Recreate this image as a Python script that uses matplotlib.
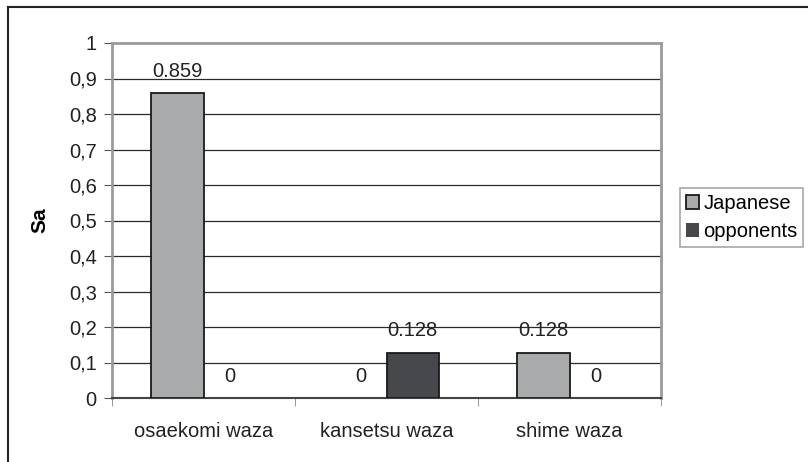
import numpy as np
import matplotlib.pyplot as plt
from matplotlib.lines import Line2D

plt.rcParams['font.family'] = ['Liberation Sans', 'DejaVu Sans']

# data
categories = ['osaekomi waza', 'kansetsu waza', 'shime waza']
japanese = [0.859, 0, 0.128]
opponents = [0, 0.128, 0]
y_ticks = [0, 0.1, 0.2, 0.3, 0.4, 0.5, 0.6, 0.7, 0.8, 0.9, 1]
y_tick_labels = ['0', '0,1', '0,2', '0,3', '0,4', '0,5', '0,6', '0,7', '0,8', '0,9', '1']

fs = 14.5
fig = plt.figure(figsize=(8.08, 4.62), dpi=100)
ax = fig.add_axes([112/808, 64/462, 549/808, 355/462])

x = np.arange(len(categories))
w = 0.285
b1 = ax.bar(x - w/2, japanese, w, color='#a9aaac', edgecolor='#1a1a1a', linewidth=1.3, label='Japanese', zorder=3)
b2 = ax.bar(x + w/2, opponents, w, color='#46484b', edgecolor='#1a1a1a', linewidth=1.3, label='opponents', zorder=3)

# value labels, zero bars drawn without outline
for bars, vals in [(b1, japanese), (b2, opponents)]:
    for r, v in zip(bars, vals):
        if v == 0:
            r.set_linewidth(0)
        lbl = '0' if v == 0 else f'{v:.3f}'
        ax.annotate(lbl, (r.get_x() + r.get_width()/2, v), xytext=(0, 9), textcoords='offset points',
                    ha='center', va='bottom', fontsize=fs, color='#222222', zorder=4)

ax.set_xlim(-0.5, len(categories) - 0.5)
ax.set_ylim(0, 1)
ax.set_yticks(y_ticks)
ax.set_yticklabels(y_tick_labels, fontsize=fs, color='#222222')
for yv in y_ticks[1:-1]:
    ax.axhline(yv, color='#2a2a2a', linewidth=0.9, zorder=1)
ax.axhline(1, color='#9a9a9a', linewidth=1.5, zorder=1)

ax.set_xticks(x)
ax.set_xticklabels(categories, fontsize=fs, color='#222222')
ax.tick_params(axis='x', length=0, pad=17)
ax.set_xticks(np.arange(len(categories) + 1) - 0.5, minor=True)
ax.tick_params(axis='x', which='minor', length=6, color='#888888', direction='out')
ax.tick_params(axis='y', length=6, color='#555555', direction='out', pad=5)

for s in ['left', 'top', 'right']:
    ax.spines[s].set_color('#9a9a9a')
    ax.spines[s].set_linewidth(2)
ax.spines['bottom'].set_color('#444444')
ax.spines['bottom'].set_linewidth(1.5)

ax.set_ylabel('Sa', fontsize=15, fontweight='bold', labelpad=14)

leg = ax.legend(loc='upper left', bbox_to_anchor=(680/808, 1 - 188/462), bbox_transform=fig.transFigure,
                fontsize=fs, frameon=True, fancybox=False, borderpad=0.3, handlelength=0.65, handleheight=0.65,
                handletextpad=0.2, labelspacing=0.45, borderaxespad=0)
leg.get_frame().set_edgecolor('#9a9a9a')
leg.get_frame().set_linewidth(1.3)

# outer chart frame (only top and left edges visible)
fig.add_artist(Line2D([8/808, 8/808], [0, 1 - 7/462], transform=fig.transFigure, color='#222222', linewidth=1.5))
fig.add_artist(Line2D([8/808, 1], [1 - 7/462, 1 - 7/462], transform=fig.transFigure, color='#222222', linewidth=1.5))

fig.savefig('out.png', dpi=100)
